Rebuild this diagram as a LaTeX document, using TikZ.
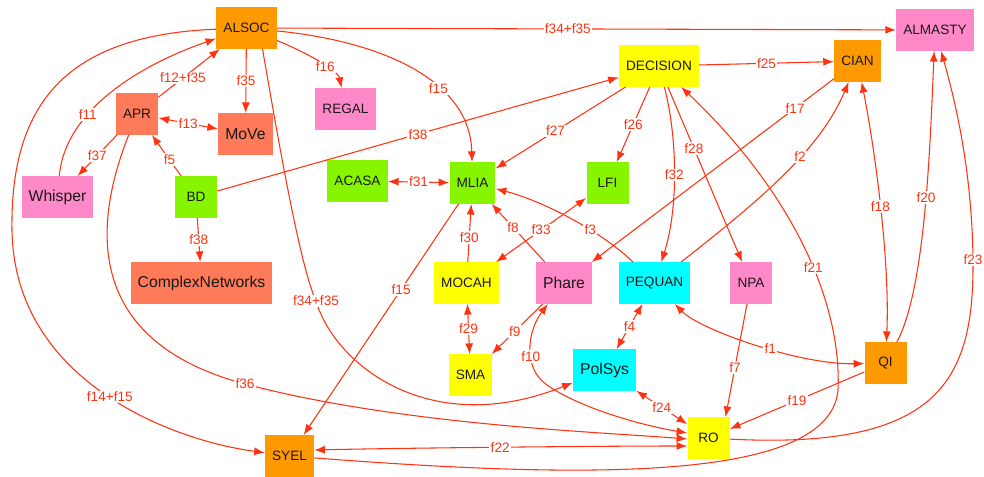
\documentclass[tikz,border=0pt]{standalone}
\usepackage{fontspec}
\setmainfont{Liberation Sans}
\usetikzlibrary{arrows.meta,calc}

\definecolor{lineRed}{RGB}{255,51,17}
\definecolor{nOrange}{RGB}{255,153,0}
\definecolor{nPink}{RGB}{255,136,200}
\definecolor{nYellow}{RGB}{255,255,0}
\definecolor{nGreen}{RGB}{136,245,0}
\definecolor{nSalmon}{RGB}{255,122,88}
\definecolor{nCyan}{RGB}{0,255,255}

\begin{document}
\begin{tikzpicture}[x=0.75pt,y=0.75pt,yscale=-1,xscale=1,
    >={Latex[length=8pt,width=6pt]},
    team/.style={fill=#1, text=black!90, minimum width=31.5pt, minimum height=31pt, inner xsep=5.3pt, inner ysep=0pt, font=\fontsize{10.2}{11}\selectfont},
    bigteam/.style={team=#1, font=\fontsize{11.8}{13}\selectfont},
    rel/.style={draw=lineRed, line width=0.8pt, ->},
    relboth/.style={draw=lineRed, line width=0.8pt, <->},
    lbl/.style={fill=white, text=lineRed, inner sep=1pt, font=\fontsize{10.2}{11}\selectfont}]
    \useasboundingbox (0,0) rectangle (984,477);

    % Teams
    \node[team=nOrange] (ALSOC) at (246.5,28) {ALSOC};
    \node[team=nPink] (ALMASTY) at (935,30) {ALMASTY};
    \node[team=nYellow] (DECISION) at (659,66) {DECISION};
    \node[team=nOrange] (CIAN) at (857.5,61) {CIAN};
    \node[team=nPink] (REGAL) at (345.5,109) {REGAL};
    \node[team=nSalmon] (APR) at (137,114) {APR};
    \node[bigteam=nSalmon] (MoVe) at (245.5,134) {MoVe};
    \node[bigteam=nPink] (Whisper) at (57.5,197) {Whisper};
    \node[team=nGreen] (BD) at (196,197) {BD};
    \node[team=nGreen] (ACASA) at (357.5,181) {ACASA};
    \node[team=nGreen] (MLIA) at (472.5,183) {MLIA};
    \node[team=nGreen] (LFI) at (607.5,183) {LFI};
    \node[bigteam=nSalmon] (ComplexNetworks) at (201.5,283) {ComplexNetworks};
    \node[team=nYellow] (MOCAH) at (466.5,283) {MOCAH};
    \node[bigteam=nPink] (Phare) at (564,283) {Phare};
    \node[team=nCyan] (PEQUAN) at (654.5,283) {PEQUAN};
    \node[team=nPink] (NPA) at (751,283) {NPA};
    \node[team=nYellow] (SMA) at (470.5,375) {SMA};
    \node[bigteam=nCyan] (PolSys) at (604.5,370) {PolSys};
    \node[team=nOrange] (QI) at (885.5,363) {QI};
    \node[team=nYellow] (RO) at (708.5,438) {RO};
    \node[team=nOrange] (SYEL) at (289.5,456) {SYEL};

    % Links from ALSOC
    \draw[rel] (ALSOC) -- node[lbl,pos=.47]{f34+f35} (ALMASTY);
    \draw[rel] (ALSOC) -- node[lbl]{f35} (MoVe);
    \draw[rel] (ALSOC) .. controls (305,52) and (338,70) .. (REGAL) node[lbl,pos=.6]{f16};
    \draw[rel] (ALSOC) .. controls (370,40) and (470,75) .. (MLIA) node[lbl,pos=.65]{f15};
    \draw[rel] ($(ALSOC.south)+(16,0)$) .. controls (280,150) and (300,265) .. (316,301) node[lbl]{f34+f35}
        .. controls (335,365) and (430,440) .. (PolSys);
    \draw[rel] (ALSOC) .. controls (70,35) and (10,100) .. (12,230)
        .. controls (14,380) and (170,440) .. (SYEL) node[lbl,pos=.52]{f14+f15};

    % APR, Whisper, BD
    \draw[rel] (APR) -- node[lbl,pos=.4]{f12+f35} (ALSOC);
    \draw[rel] (Whisper) .. controls (65,110) and (140,65) .. (ALSOC) node[lbl,pos=.35]{f11};
    \draw[relboth] (APR) -- node[lbl]{f13} (MoVe);
    \draw[rel] (APR) -- node[lbl]{f37} (Whisper);
    \draw[rel] (APR) .. controls (95,220) and (80,340) .. (245,384) node[lbl]{f36}
        .. controls (400,425) and (600,432) .. ($(RO.west)+(0,1)$);
    \draw[rel] (BD) -- node[lbl,pos=.4]{f5} (APR);
    \draw[rel] (BD) -- node[lbl]{f38} (DECISION);
    \draw[rel] (BD) -- node[lbl]{f38} (ComplexNetworks);
    \draw[relboth] (ACASA) -- node[lbl]{f31} (MLIA);

    % DECISION
    \draw[rel] (DECISION) -- node[lbl,pos=.54]{f27} (MLIA);
    \draw[rel] (DECISION) -- node[lbl]{f26} (LFI);
    \draw[rel] (DECISION) -- node[lbl]{f25} (CIAN);
    \draw[rel] (DECISION) .. controls (678,140) and (678,210) .. (PEQUAN) node[lbl,pos=.5]{f32};
    \draw[rel] (DECISION) -- node[lbl,pos=.35]{f28} (NPA);

    % CIAN, QI, ALMASTY
    \draw[rel] (CIAN) -- node[lbl,pos=.16]{f17} (Phare);
    \draw[rel] (PEQUAN) .. controls (760,200) and (820,150) .. (CIAN) node[lbl,pos=.6]{f2};
    \draw[relboth] (CIAN) .. controls (875,150) and (890,260) .. (QI) node[lbl,pos=.5]{f18};
    \draw[rel] (QI) .. controls (925,290) and (930,150) .. (ALMASTY) node[lbl,pos=.55]{f20};
    \draw[rel] (RO) .. controls (940,450) and (974,380) .. (973,260) node[lbl]{f23}
        .. controls (972,170) and (955,100) .. (ALMASTY);
    \draw[rel] (SYEL) .. controls (600,480) and (830,480) .. (838,390)
        .. controls (842,300) and (790,190) .. (DECISION) node[lbl,pos=.42]{f21};

    % MLIA and below
    \draw[rel] (MLIA) -- node[lbl,pos=.37]{f15} (SYEL);
    \draw[rel] (MOCAH) -- node[lbl,pos=.42]{f30} (MLIA);
    \draw[rel] (Phare) -- node[lbl,pos=.6]{f8} (MLIA);
    \draw[relboth] (MOCAH) -- node[lbl]{f33} (LFI);
    \draw[rel] (PEQUAN) .. controls (600,230) and (540,200) .. (MLIA) node[lbl,pos=.35]{f3};
    \draw[relboth] (MOCAH) -- node[lbl]{f29} (SMA);
    \draw[rel] (Phare) -- node[lbl,pos=.55]{f9} (SMA);
    \draw[relboth] (PEQUAN) -- node[lbl]{f4} (PolSys);
    \draw[relboth] (PEQUAN) .. controls (700,330) and (800,365) .. (QI) node[lbl,pos=.57]{f1};

    % RO
    \draw[relboth] (Phare) .. controls (528,330) and (522,368) .. (547,385) node[lbl,pos=.6]{f10}
        .. controls (580,408) and (640,425) .. ($(RO.west)+(0,-5)$);
    \draw[relboth] ($(SYEL.east)+(0,-6)$) .. controls (400,448) and (600,446) .. ($(RO.west)+(0,8)$) node[lbl,pos=.5]{f22};
    \draw[relboth] (PolSys) -- node[lbl]{f24} (RO);
    \draw[rel] (NPA) -- node[lbl,pos=.56]{f7} ($(RO.north)+(17,0)$);
    \draw[rel] (QI) -- node[lbl]{f19} (RO);
\end{tikzpicture}
\end{document}
